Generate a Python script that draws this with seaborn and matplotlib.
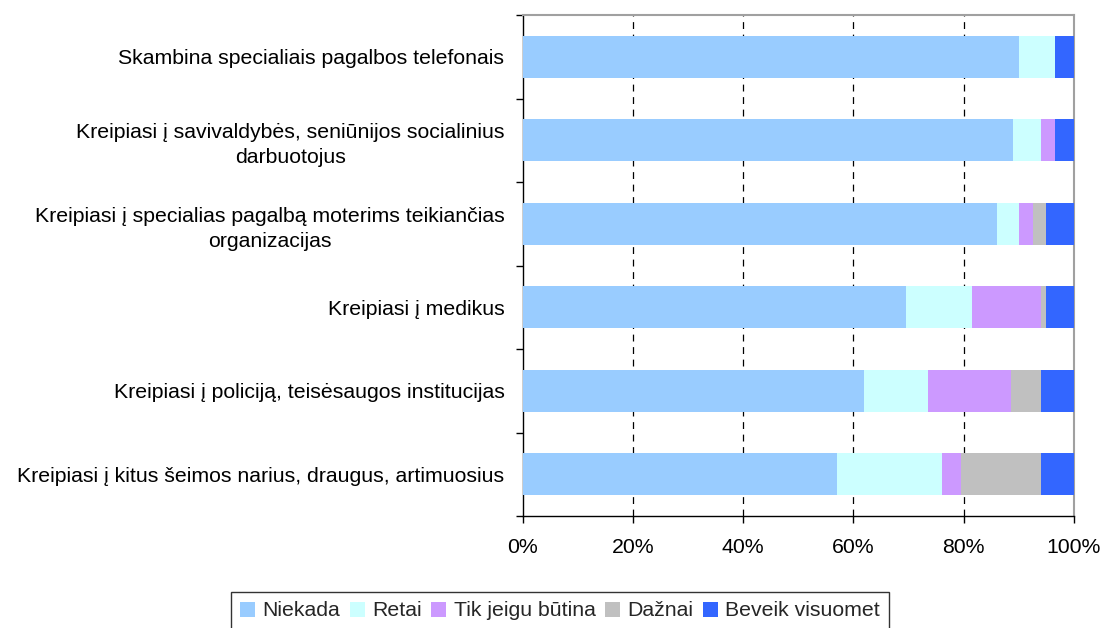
import numpy as np
import pandas as pd
import matplotlib
matplotlib.use("Agg")
import matplotlib.pyplot as plt
import seaborn as sns
from matplotlib.patches import Patch

categories = [
    "Skambina specialiais pagalbos telefonais",
    "Kreipiasi į savivaldybės, seniūnijos socialinius\ndarbuotojus",
    "Kreipiasi į specialias pagalbą moterims teikiančias\norganizacijas",
    "Kreipiasi į medikus",
    "Kreipiasi į policiją, teisėsaugos institucijas",
    "Kreipiasi į kitus šeimos narius, draugus, artimuosius",
]
series_names = ["Niekada", "Retai", "Tik jeigu būtina", "Dažnai", "Beveik visuomet"]
niekada = [90, 89, 86, 69.5, 62, 57]
retai = [6.5, 5, 4, 12, 11.5, 19]
tik_jeigu = [0, 2.5, 2.5, 12.5, 15, 3.5]
daznai = [0, 0, 2.5, 1, 5.5, 14.5]
beveik = [3.5, 3.5, 5, 5, 6, 6]
colors = ["#99CCFF", "#CCFFFF", "#CC99FF", "#C0C0C0", "#3366FF"]
xticks = [0, 20, 40, 60, 80, 100]
xticklabels = ["0%", "20%", "40%", "60%", "80%", "100%"]

sns.set_theme(style="white")
plt.rcParams["font.family"] = ["Liberation Sans", "DejaVu Sans"]

FS = 15.3

data = np.array([niekada, retai, tik_jeigu, daznai, beveik])
cum = np.cumsum(data, axis=0)

fig = plt.figure(figsize=(11.02, 6.28), dpi=100)
ax = fig.add_axes([522.5 / 1102, 1 - 516 / 628, (1074 - 522.5) / 1102, (516 - 15) / 628])

for i in range(len(series_names) - 1, -1, -1):
    df = pd.DataFrame({"cat": categories, "val": cum[i]})
    sns.barplot(data=df, x="val", y="cat", orient="h", color=colors[i],
                width=0.5, saturation=1, ax=ax, zorder=3, linewidth=0)

ax.set_xlim(0, 100)
ax.set_ylim(5.5, -0.5)
ax.set_xlabel("")
ax.set_ylabel("")
ax.set_xticks(xticks)
ax.set_xticklabels(xticklabels, fontsize=FS, color="#000000")
ax.set_yticks(range(len(categories)))
ax.set_yticklabels(categories, fontsize=FS, color="#000000",
                   multialignment="center", linespacing=1.4)
ax.set_yticks(np.arange(-0.5, 6.0, 1.0), minor=True)
ax.tick_params(axis="y", which="major", length=0, pad=13)
ax.tick_params(axis="y", which="minor", length=5, width=1, color="#000000", direction="out", left=True)
ax.tick_params(axis="x", which="major", length=5, width=1, color="#000000", direction="out", bottom=True, pad=10.5)

for x in xticks[1:-1]:
    ax.axvline(x, color="#000000", linestyle=(0, (5.5, 4.5)), linewidth=0.9, zorder=1)

for side in ["left", "bottom"]:
    ax.spines[side].set_color("#000000")
    ax.spines[side].set_linewidth(1)
for side in ["top", "right"]:
    ax.spines[side].set_color("#A0A0A0")
    ax.spines[side].set_linewidth(1.5)
ax.grid(False)

handles = [Patch(facecolor=c, edgecolor="none") for c in colors]
leg = fig.legend(handles, series_names, loc="center", bbox_to_anchor=(560 / 1102, 1 - 611 / 628),
                 ncol=5, frameon=True, fancybox=False, fontsize=FS,
                 handlelength=0.7, handleheight=0.7, handletextpad=0.35, columnspacing=0.45,
                 borderpad=0.45, borderaxespad=0)
leg.get_frame().set_edgecolor("#000000")
leg.get_frame().set_linewidth(1)

fig.savefig("out.png", dpi=100, facecolor="white")
